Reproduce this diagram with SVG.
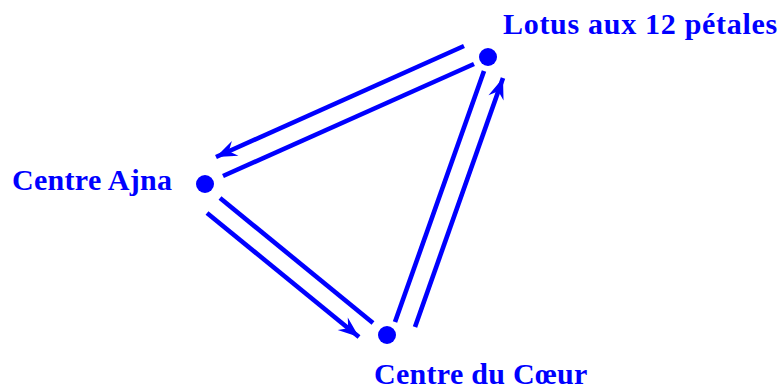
<svg xmlns="http://www.w3.org/2000/svg" width="781" height="391" viewBox="0 0 781 391">
<style>
.lbl{font-family:"Liberation Serif","Times New Roman",serif;font-weight:bold;font-size:30px;fill:#0000ff;letter-spacing:0.3px}
.dot{fill:#0000ff}
.ln{stroke:#0000ff;stroke-width:4.6;fill:none}
</style>
<defs>
<marker id="arr" markerUnits="userSpaceOnUse" markerWidth="26" markerHeight="20" viewBox="-22 -10 24 20" refX="0" refY="0" orient="auto">
<path d="M0,0 L-21,-8 L-14,0 L-21,8 Z" fill="#0000ff"/>
</marker>
</defs>
<rect width="781" height="391" fill="#ffffff"/>
<g id="connectors">
<line class="ln" x1="464" y1="46" x2="216" y2="157" marker-end="url(#arr)"/>
<line class="ln" x1="474" y1="64" x2="223" y2="176"/>
<line class="ln" x1="484" y1="71" x2="395" y2="322"/>
<line class="ln" x1="415" y1="327" x2="503" y2="78" marker-end="url(#arr)"/>
<line class="ln" x1="220" y1="198" x2="373" y2="323"/>
<line class="ln" x1="207" y1="213" x2="359" y2="337" marker-end="url(#arr)"/>
</g>
<g id="lotus">
<circle class="dot" cx="488" cy="57" r="9"/>
<text class="lbl" x="503" y="34" style="letter-spacing:0.7px">Lotus aux 12 pétales</text>
</g>
<g id="ajna">
<circle class="dot" cx="205" cy="184" r="9"/>
<text class="lbl" x="12" y="190">Centre Ajna</text>
</g>
<g id="coeur">
<circle class="dot" cx="387" cy="335" r="9"/>
<text class="lbl" x="374" y="384">Centre du Cœur</text>
</g>
</svg>
